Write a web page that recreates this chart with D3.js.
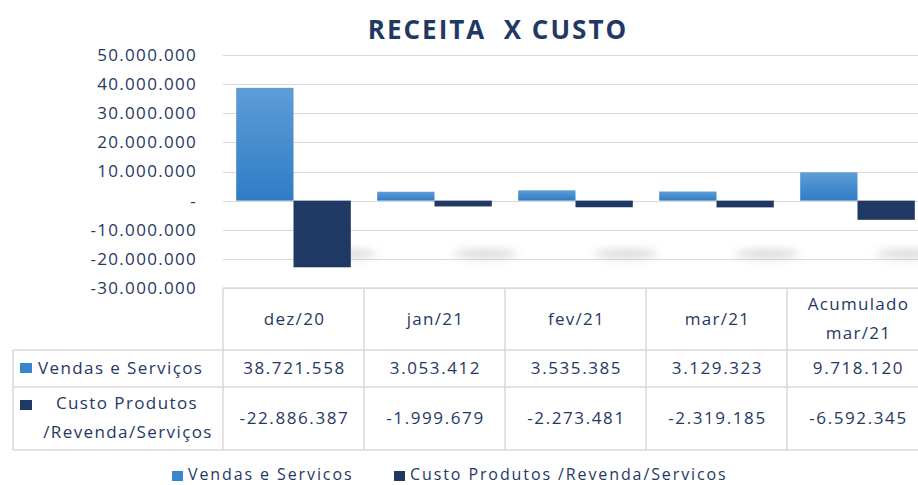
<!DOCTYPE html>
<html>
<head>
<meta charset="utf-8">
<script src="https://cdn.jsdelivr.net/npm/d3@7"></script>
<style>
  body { margin: 0; background: #fff; }
  text { font-family: "Open Sans", sans-serif; fill: #1f3864; }
</style>
</head>
<body>
<svg id="chart"></svg>
<script>
// categories and series
const categories = ["dez/20", "jan/21", "fev/21", "mar/21", "Acumulado mar/21"];
const vendas = [38721558, 3053412, 3535385, 3129323, 9718120];
const custo = [-22886387, -1999679, -2273481, -2319185, -6592345];
const yTicks = [-30000000, -20000000, -10000000, 0, 10000000, 20000000, 30000000, 40000000, 50000000];
const seriesNames = ["Vendas e Serviços", "Custo Produtos /Revenda/Serviços"];
const legendNames = ["Vendas e Servicos", "Custo Produtos /Revenda/Servicos"];

const width = 918, height = 485;
const svg = d3.select("#chart").attr("width", width).attr("height", height);

const colBlue = "#3a86cc", colDark = "#203864", grid = "#d9d9d9";

const defs = svg.append("defs");
const grad = defs.append("linearGradient").attr("id", "gBlue")
  .attr("x1", 0).attr("y1", 0).attr("x2", 0).attr("y2", 1);
grad.append("stop").attr("offset", "0%").attr("stop-color", "#5e9dd7");
grad.append("stop").attr("offset", "100%").attr("stop-color", "#2f7cc6");
defs.append("filter").attr("id", "blur").attr("x", "-50%").attr("y", "-200%")
  .attr("width", "200%").attr("height", "500%")
  .append("feGaussianBlur").attr("stdDeviation", 4);

const fmt = d3.formatLocale({ decimal: ",", thousands: ".", grouping: [3], currency: ["R$", ""], minus: "-" }).format(",.0f");
const fmtTick = v => v === 0 ? "-" : fmt(v);

// scales
const x = d3.scaleBand().domain(categories).range([223, 928]).paddingInner(0).paddingOuter(0);
const x1 = d3.scaleBand().domain([0, 1]).range([0, x.bandwidth()]).paddingInner(0).paddingOuter(0.23);
const y = d3.scaleLinear().domain([-30000000, 50000000]).range([288, 55]);

// title
svg.append("text")
  .attr("x", 498).attr("y", 39)
  .attr("text-anchor", "middle")
  .style("font-size", "26px").style("font-weight", "bold")
  .style("letter-spacing", "2px")
  .style("white-space", "pre")
  .text("RECEITA  X CUSTO");

// gridlines + y labels
svg.append("g").selectAll("line").data(yTicks).join("line")
  .attr("x1", 223).attr("x2", width)
  .attr("y1", d => Math.round(y(d)) + 0.5).attr("y2", d => Math.round(y(d)) + 0.5)
  .attr("stroke", grid).attr("stroke-width", 1.2);

svg.append("g").selectAll("text").data(yTicks).join("text")
  .attr("x", 197).attr("y", d => y(d))
  .attr("dy", "0.35em")
  .attr("text-anchor", "end")
  .style("font-size", "17px").style("letter-spacing", "1.3px")
  .text(fmtTick);

// soft shadows under the cost bars
svg.append("g").selectAll("ellipse").data(custo).join("ellipse")
  .attr("cx", (d, i) => x(categories[i]) + x1(1) + x1.bandwidth() / 2 + 22)
  .attr("cy", 254)
  .attr("rx", 32).attr("ry", 5)
  .attr("fill", "#bdbdbd").attr("opacity", 0.55)
  .attr("filter", "url(#blur)");

// bars
const bars = svg.append("g");
bars.selectAll("rect.v").data(vendas).join("rect").attr("class", "v")
  .attr("x", (d, i) => x(categories[i]) + x1(0))
  .attr("width", x1.bandwidth())
  .attr("y", d => y(Math.max(0, d)))
  .attr("height", d => Math.abs(y(d) - y(0)))
  .attr("fill", "url(#gBlue)");
bars.selectAll("rect.c").data(custo).join("rect").attr("class", "c")
  .attr("x", (d, i) => x(categories[i]) + x1(1))
  .attr("width", x1.bandwidth())
  .attr("y", d => y(Math.max(0, d)))
  .attr("height", d => Math.abs(y(d) - y(0)))
  .attr("fill", colDark);

// data table
const tTop = 288, r1 = 350, r2 = 387, tBot = 450, tLeft = 13;
const tbl = svg.append("g").attr("stroke", grid).attr("stroke-width", 1.5);
tbl.append("line").attr("x1", 223).attr("x2", width).attr("y1", tTop).attr("y2", tTop);
[r1, r2, tBot].forEach(yy => tbl.append("line").attr("x1", tLeft).attr("x2", width).attr("y1", yy).attr("y2", yy));
tbl.append("line").attr("x1", tLeft).attr("x2", tLeft).attr("y1", r1).attr("y2", tBot);
categories.forEach(c => tbl.append("line").attr("x1", x(c)).attr("x2", x(c)).attr("y1", tTop).attr("y2", tBot));

// header row
const head = svg.append("g");
const headText = (cx, cy, t) => head.append("text").attr("x", cx + 1).attr("y", cy).attr("dy", "0.35em")
  .attr("text-anchor", "middle").style("font-size", "17px").style("letter-spacing", "1.3px").text(t);
categories.forEach(c => {
  const cx = x(c) + x.bandwidth() / 2;
  if (c.startsWith("Acumulado")) {
    headText(cx, 304, "Acumulado");
    headText(cx, 333, "mar/21");
  } else {
    headText(cx, 319, c);
  }
});

// value rows
const rows = [{ vals: vendas, cy: 368 }, { vals: custo, cy: 418 }];
rows.forEach(r => {
  svg.append("g").selectAll("text").data(r.vals).join("text")
    .attr("x", (d, i) => x(categories[i]) + x.bandwidth() / 2 + 1)
    .attr("y", r.cy).attr("dy", "0.35em")
    .attr("text-anchor", "middle")
    .style("font-size", "17px").style("letter-spacing", "1.6px")
    .text(fmt);
});

// row labels
const lbl = (xx, yy, t, anchor) => svg.append("text").attr("x", xx).attr("y", yy).attr("dy", "0.35em")
  .attr("text-anchor", anchor).style("font-size", "17px").style("letter-spacing", "1.4px").text(t);
svg.append("rect").attr("x", 20).attr("y", 363).attr("width", 12).attr("height", 10).attr("fill", colBlue);
lbl(38, 368, seriesNames[0], "start");
svg.append("rect").attr("x", 20).attr("y", 400).attr("width", 12).attr("height", 10).attr("fill", colDark);
lbl(127, 403, "Custo Produtos", "middle");
lbl(128, 432, "/Revenda/Serviços", "middle");

// legend
const leg = [{ x: 172, name: legendNames[0], color: colBlue }, { x: 394, name: legendNames[1], color: colDark }];
leg.forEach(l => {
  svg.append("rect").attr("x", l.x).attr("y", 471).attr("width", 11).attr("height", 10).attr("fill", l.color);
  svg.append("text").attr("x", l.x + 16).attr("y", 480)
    .style("font-size", "16px").style("letter-spacing", "1.9px").text(l.name);
});
</script>
</body>
</html>
